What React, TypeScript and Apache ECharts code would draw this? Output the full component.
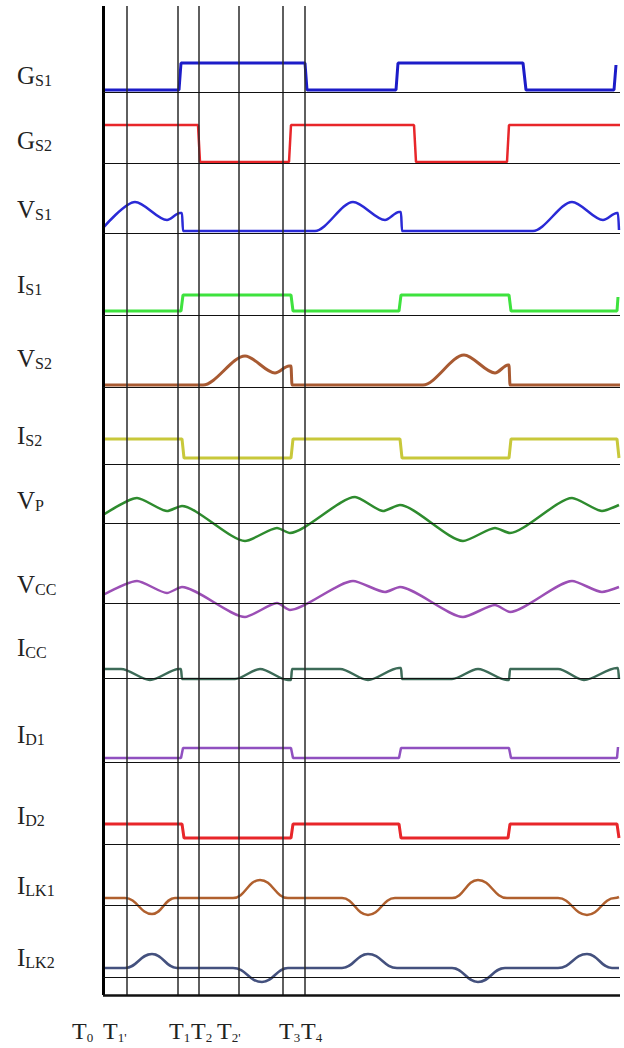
import React, { useEffect, useRef } from 'react';
import * as echarts from 'echarts';

// time axis span (arbitrary units, T0 = 0)
const T_SPAN = 517;
const markerTimes = [0, 24, 75, 96, 136, 180, 202];
const markerMain = ['T', 'T', 'T', 'T', 'T', 'T', 'T'];
const markerSub = ['0', "1'", '1', '2', "2'", '3', '4'];

const rowMain = ['G', 'G', 'V', 'I', 'V', 'I', 'V', 'V', 'I', 'I', 'I', 'I', 'I'];
const rowSub = ['S1', 'S2', 'S1', 'S1', 'S2', 'S2', 'P', 'CC', 'CC', 'D1', 'D2', 'LK1', 'LK2'];

// waveform values [time, level]
const gS1 = [[0,2],[76,2],[78,29],[202,29],[204,2],[293,2],[295,29],[420,29],[423,2],[511,2],[513,27]];
const gS2 = [[0,38],[95,38],[97,1],[186,1],[188,38],[311,38],[313,1],[404,1],[406,38],[517,38]];
const vS1 = [[0,5],[32,31],[64,13],[77,20],[79,20],[80,2],[90,2],[200,2],[212,2],[250,31],[282,13],[296,21],[298,21],[299,2],[309,2],[420,2],[430,2],[469,31],[500,13],[514,20],[515,20],[516,3]];
const iS1 = [[0,4],[78,4],[80,20],[188,20],[190,4],[296,4],[298,20],[406,20],[408,4],[514,4],[515,18]];
const vS2 = [[0,2],[90,2],[100,2],[142,31],[172,14],[186,21],[188,21],[189,2],[200,2],[310,2],[320,2],[361,32],[392,14],[405,22],[406,22],[407,2],[417,2],[517,2]];
const iS2 = [[0,25],[79,25],[81,6],[188,6],[190,25],[297,25],[299,6],[406,6],[408,25],[514,25],[516,6]];
const vP = [[0,8],[34,25],[64,12],[79,17],[142,-18],[174,-5],[187,-10],[252,26],[280,12],[297,18],[360,-18],[392,-5],[407,-10],[469,25],[499,12],[516,18]];
const vCC = [[0,8],[34,22],[64,10],[79,16],[142,-14],[174,0],[187,-7],[250,22],[282,11],[297,16],[360,-14],[392,-2],[407,-9],[469,22],[499,11],[516,16]];
const iCC = [[0,9],[18,9],[47,-2],[76,9],[78,9],[79,-1],[89,-1],[132,-1],[157,9],[185,-2],[188,-2],[189,9],[199,9],[237,9],[265,-2],[296,10],[298,10],[299,-1],[309,-1],[349,-1],[375,9],[404,-2],[406,-2],[407,9],[417,9],[455,9],[481,-2],[514,10],[515,10],[516,-1]];
const iD1 = [[0,4],[78,4],[80,14],[188,14],[190,4],[296,4],[298,14],[406,14],[408,4],[514,4],[515,15]];
const iD2 = [[0,20],[79,20],[81,6],[188,6],[190,20],[296,20],[298,6],[405,6],[407,20],[514,20],[516,6]];
const iLK1 = [[0,7],[22,7],[49,-9],[72,7],[130,7],[157,25],[185,7],[239,7],[265,-10],[292,7],[349,7],[375,25],[404,7],[455,7],[484,-10],[512,7],[516,8]];
const iLK2 = [[0,9],[22,9],[49,23],[74,9],[130,9],[159,-5],[185,9],[239,9],[265,23],[294,9],[349,9],[375,-5],[402,9],[455,9],[484,23],[509,9],[516,9]];

const rowData = [gS1, gS2, vS1, iS1, vS2, iS2, vP, vCC, iCC, iD1, iD2, iLK1, iLK2];

// styles / layout
const rowColors = ['#1c1cc8', '#e8262a', '#2a2ad6', '#3ee23e', '#a85a32', '#c8c83a', '#2e8b2e', '#9b4fb5', '#3d6b58', '#9050c0', '#e8262a', '#b0602e', '#44517e'];
const rowWidths = [3, 2.5, 2.5, 3, 3, 3, 2.5, 2.5, 2.5, 2.5, 3, 2.5, 2.5];
const rowSmooth = [0, 0, 0.3, 0, 0.3, 0, 0.22, 0.22, 0.3, 0, 0, 0.45, 0.45];
const rowBaseY = [92, 163, 233, 315, 387, 464, 523, 603, 678, 762, 844, 905, 977];
const rowLabelY = [73, 138, 207, 282, 356, 433, 498, 582, 645, 732, 813, 883, 955];
const markerLabelX = [72, 103, 169, 191, 217, 279, 301];
const PLOT_LEFT = 103;
const PLOT_W = 517;

const FONT = 'Liberation Serif';

export default function App() {
  const ref = useRef<HTMLDivElement>(null);
  useEffect(() => {
    const chart = echarts.init(ref.current!, null, { renderer: 'svg' });
    const grids: any[] = [{ left: PLOT_LEFT, width: PLOT_W, top: 6, height: 989 }];
    const xAxes: any[] = [{ gridIndex: 0, type: 'value', min: 0, max: T_SPAN, show: false }];
    const yAxes: any[] = [{ gridIndex: 0, type: 'value', min: 0, max: 1, show: false }];
    const series: any[] = [{
      type: 'line', xAxisIndex: 0, yAxisIndex: 0, data: [], z: 10, silent: true,
      markLine: {
        silent: true, symbol: ['none', 'none'], label: { show: false }, animation: false,
        data: [
          ...markerTimes.map((t, i) => ({ xAxis: t, lineStyle: { type: 'solid', color: i === 0 ? '#000' : '#2a2a2a', width: i === 0 ? 3 : 1.5 } })),
          { yAxis: 0, lineStyle: { type: 'solid', color: '#111', width: 2.5 } },
        ],
      },
    }];
    rowData.forEach((d, i) => {
      const gi = i + 1;
      grids.push({ left: PLOT_LEFT, width: PLOT_W, top: rowBaseY[i] - 40, height: 60 });
      xAxes.push({ gridIndex: gi, type: 'value', min: 0, max: T_SPAN, show: false });
      yAxes.push({ gridIndex: gi, type: 'value', min: -20, max: 40, show: false });
      series.push({
        type: 'line', xAxisIndex: gi, yAxisIndex: gi, data: d, symbol: 'none', showSymbol: false,
        smooth: rowSmooth[i] > 0 ? rowSmooth[i] : false, smoothMonotone: 'x', silent: true, z: 3,
        lineStyle: { color: rowColors[i], width: rowWidths[i] },
        markLine: {
          silent: true, symbol: ['none', 'none'], label: { show: false }, animation: false,
          lineStyle: { type: 'solid', color: '#111', width: 1.2 },
          data: [{ yAxis: 0 }],
        },
      });
    });
    const richLeft = {
      m: { fontFamily: FONT, fontSize: 25, lineHeight: 27, fill: '#222' },
      s: { fontFamily: FONT, fontSize: 16, lineHeight: 16, verticalAlign: 'bottom', fill: '#222' },
    };
    const richBottom = {
      m: { fontFamily: FONT, fontSize: 24, lineHeight: 26, fill: '#222' },
      s: { fontFamily: FONT, fontSize: 13, lineHeight: 12, verticalAlign: 'bottom', fill: '#222' },
    };
    const graphics: any[] = [];
    rowMain.forEach((m, i) => {
      graphics.push({
        type: 'text', x: 17, y: rowLabelY[i] + 2,
        style: { text: `{m|${m}}{s|${rowSub[i]}}`, rich: richLeft, verticalAlign: 'middle', align: 'left', fontFamily: FONT },
      });
    });
    markerMain.forEach((m, i) => {
      graphics.push({
        type: 'text', x: markerLabelX[i], y: 1031,
        style: { text: `{m|${m}}{s|${markerSub[i]}}`, rich: richBottom, verticalAlign: 'middle', align: 'left', fontFamily: FONT },
      });
    });
    chart.setOption({
      animation: false,
      backgroundColor: '#fff',
      grid: grids, xAxis: xAxes, yAxis: yAxes, series,
      graphic: graphics,
    });
    return () => chart.dispose();
  }, []);
  return <div ref={ref} style={{ position: 'fixed', left: 0, top: 0, width: 624, height: 1048 }} />;
}
